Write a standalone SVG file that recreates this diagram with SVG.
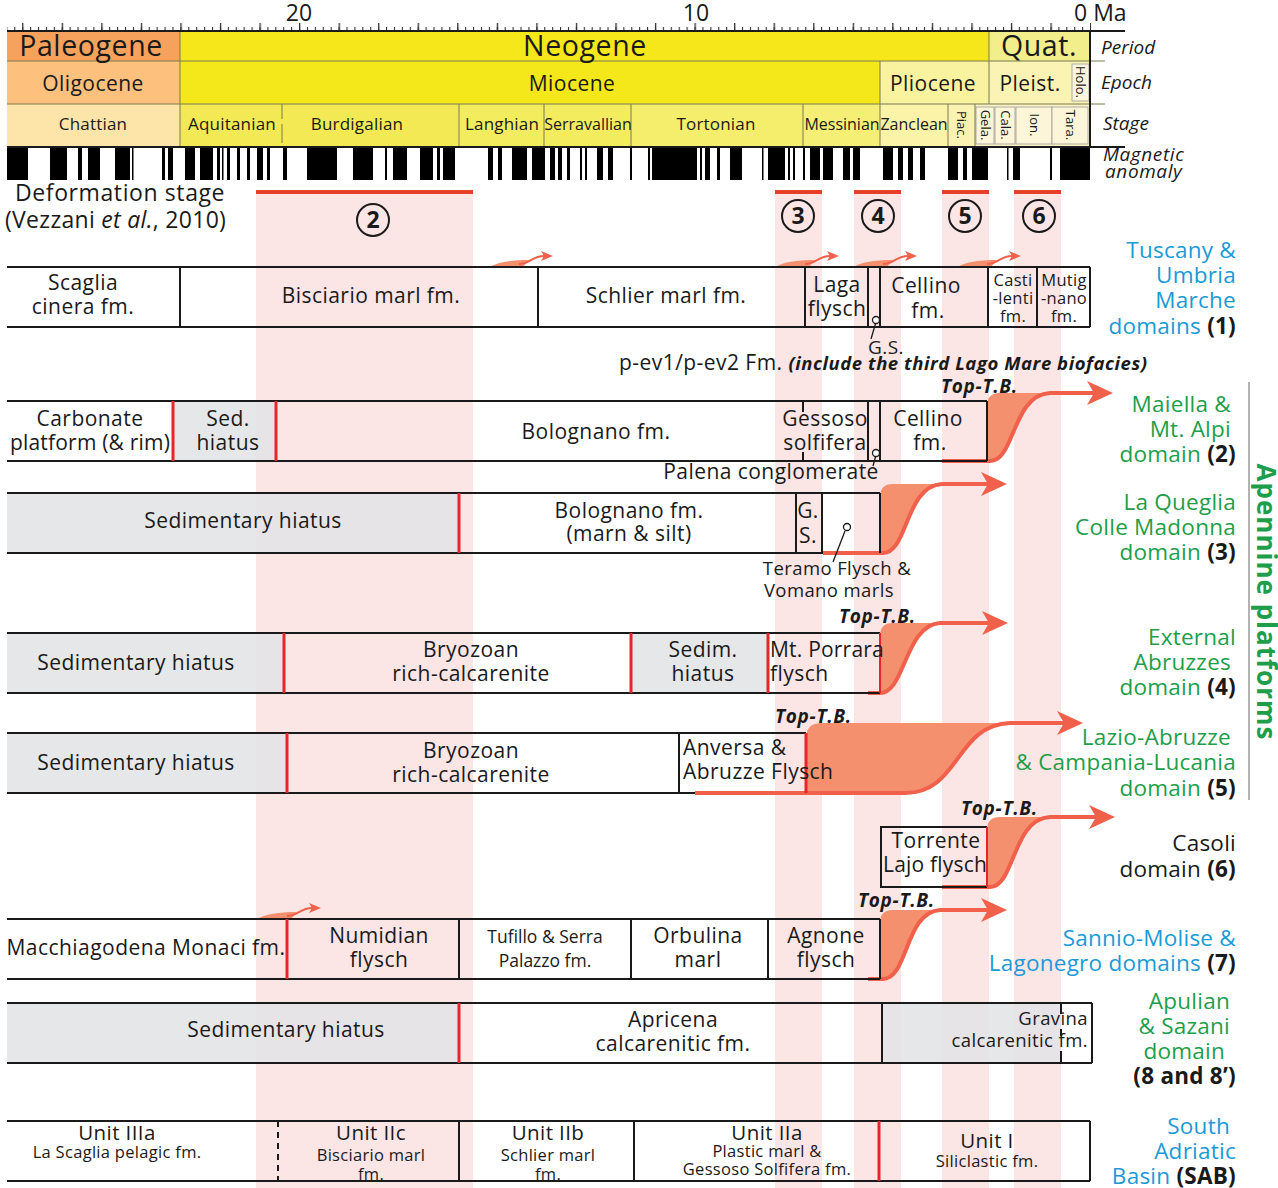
<svg xmlns="http://www.w3.org/2000/svg" width="1278" height="1188" viewBox="0 0 1278 1188">
<style>
text{font-family:"Open Sans","Noto Sans",sans-serif;fill:#1a1a1a}
.c{text-anchor:middle}.e{text-anchor:end}
.f26{font-size:28.5px;letter-spacing:0.6px}.f22{font-size:23px}.f21{font-size:22.5px;letter-spacing:0.25px}.f20{font-size:21px;letter-spacing:0.45px}.f19{font-size:20.5px;letter-spacing:0.4px}.f18{font-size:19px;letter-spacing:0.4px}.f17{font-size:18.5px;letter-spacing:0.4px}.f17n{font-size:17.5px}.f16{font-size:17px;letter-spacing:0.2px}.f16n{font-size:16px}.f15{font-size:16.5px;letter-spacing:0.3px}.f13{font-size:13px}
.tb{font-size:19px;letter-spacing:0.7px;font-style:italic;font-weight:bold}
.hd{font-size:19px}
.it{font-style:italic}.bi{font-style:italic;font-weight:bold}.b{font-weight:bold}
.blue{fill:#1B9AD7}.green{fill:#1E9E4A}.blk{fill:#1a1a1a;font-weight:bold}
.hl{stroke:#1a1a1a;stroke-width:2;fill:none}
.rl{stroke:#E8262A;stroke-width:3;fill:none}
.gray{fill:#E3E4E6;fill-opacity:0.88}
.band{fill:#FCE5E5}
.dl{stroke:#E5402A;stroke-width:4}
.sep{stroke:#7a7a50;stroke-width:1;fill:none}
.afill{fill:#F5906F}
.astroke{stroke:#F0604A;stroke-width:4;fill:none}
.sstroke{stroke:#F0604A;stroke-width:2;fill:none}
.sfill{fill:#F5906F}
.pin{fill:#fff;stroke:#1a1a1a;stroke-width:1.3}
</style>
<defs>
<marker id="ah" viewBox="0 0 26 24" refX="18" refY="12" markerWidth="26" markerHeight="24" markerUnits="userSpaceOnUse" orient="auto"><path d="M0,0 L26,12 L0,24 L7,12 Z" fill="#F0604A"/></marker>
<marker id="sh" viewBox="0 0 12 10" refX="8" refY="5" markerWidth="12" markerHeight="10" markerUnits="userSpaceOnUse" orient="auto"><path d="M0,0 L12,5 L0,10 L3,5 Z" fill="#F0604A"/></marker>
<pattern id="minor" x="1090" y="0" width="7.91" height="10" patternUnits="userSpaceOnUse"><rect x="0" y="0" width="1.1" height="10" fill="#333"/></pattern>
<pattern id="major" x="1090" y="0" width="39.55" height="10" patternUnits="userSpaceOnUse"><rect x="0" y="0" width="1.3" height="10" fill="#333"/></pattern>
</defs>

<!-- pink deformation bands -->
<g id="bands">
<rect class="band" x="256" y="192" width="217" height="996"/>
<rect class="band" x="775" y="192" width="47" height="996"/>
<rect class="band" x="854" y="192" width="47" height="996"/>
<rect class="band" x="942" y="192" width="47" height="996"/>
<rect class="band" x="1014" y="192" width="47" height="996"/>
</g>

<!-- time axis -->
<g id="axis">
<rect x="7" y="27" width="1084" height="4" fill="url(#minor)"/>
<rect x="7" y="23" width="1084" height="8" fill="url(#major)"/>
<text class="f22 c" x="299" y="21">20</text>
<text class="f22 c" x="696" y="21">10</text>
<text class="f22" x="1074" y="21">0 Ma</text>
</g>

<!-- chronostratigraphic header -->
<g id="header">
<rect x="7" y="31" width="173" height="30" fill="#F7A25C"/>
<rect x="180" y="31" width="809" height="30" fill="#F6E71B"/>
<rect x="989" y="31" width="101" height="30" fill="#F2EE8B"/>
<rect x="7" y="61" width="173" height="43" fill="#FDC07D"/>
<rect x="180" y="61" width="700" height="43" fill="#F5E81A"/>
<rect x="880" y="61" width="109" height="43" fill="#F9F29F"/>
<rect x="989" y="61" width="101" height="43" fill="#FAF3B3"/>
<rect x="1072" y="64" width="17" height="37" fill="#FDF6DA" stroke="#999" stroke-width="0.8"/>
<rect x="7" y="104" width="173" height="43" fill="#FDE4A8"/>
<rect x="180" y="104" width="279" height="43" fill="#F3E954"/>
<rect x="459" y="104" width="172" height="43" fill="#F4EC5F"/>
<rect x="631" y="104" width="172" height="43" fill="#F5EE6D"/>
<rect x="803" y="104" width="77" height="43" fill="#F6EF75"/>
<rect x="880" y="104" width="68" height="43" fill="#FAF3A8"/>
<rect x="948" y="104" width="27" height="43" fill="#F9F2B3"/>
<rect x="975" y="104" width="115" height="43" fill="#FAF3C4"/>
<rect x="976" y="107" width="18" height="37" fill="#FDF5D8" stroke="#999" stroke-width="0.8"/>
<rect x="995" y="107" width="20" height="37" fill="#FDF5D8" stroke="#999" stroke-width="0.8"/>
<rect x="1016" y="107" width="36" height="37" fill="#FDF5D8" stroke="#999" stroke-width="0.8"/>
<rect x="1052" y="107" width="36" height="37" fill="#FDF5D8" stroke="#999" stroke-width="0.8"/>
<path class="sep" d="M7,61 H1105 M7,104 H1105 M180,31 V147 M989,31 V104 M880,61 V147 M282,104 V119 M282,124 V143 M459,104 V147 M544,104 V147 M631,104 V147 M803,104 V147 M948,104 V147 M975,104 V147"/>
<path class="hl" d="M7,31 H1125 M7,147 H1125 M1090,31 V147"/>
<text class="f26 c" x="91" y="56">Paleogene</text>
<text class="f26 c" x="585" y="56">Neogene</text>
<text class="f26 c" x="1039" y="56">Quat.</text>
<text class="f20 c" x="93" y="91">Oligocene</text>
<text class="f20 c" x="572" y="91">Miocene</text>
<text class="f20 c" x="933" y="91">Pliocene</text>
<text class="f20 c" x="1030" y="91">Pleist.</text>
<text class="f13 c" transform="translate(1076,82) rotate(90)">Holo.</text>
<text class="f16 c" x="93" y="130">Chattian</text>
<text class="f16 c" x="232" y="130">Aquitanian</text>
<text class="f16 c" x="357" y="130">Burdigalian</text>
<text class="f16 c" x="502" y="130">Langhian</text>
<text class="f16n c" x="588" y="130">Serravallian</text>
<text class="f16 c" x="716" y="130">Tortonian</text>
<text class="f16n c" x="842" y="130">Messinian</text>
<text class="f16n c" x="914" y="130">Zanclean</text>
<text class="f13 c" transform="translate(957,125) rotate(90)">Piac.</text>
<text class="f13 c" transform="translate(981,125) rotate(90)">Gela.</text>
<text class="f13 c" transform="translate(1001,125) rotate(90)">Cala.</text>
<text class="f13 c" transform="translate(1030,125) rotate(90)">Ion.</text>
<text class="f13 c" transform="translate(1066,125) rotate(90)">Tara.</text>
<text class="hd it" x="1101" y="54">Period</text>
<text class="hd it" x="1101" y="89">Epoch</text>
<text class="hd it" x="1103" y="130">Stage</text>
<text class="hd it" x="1103" y="161" style="letter-spacing:0.6px">Magnetic</text>
<text class="hd it" x="1105" y="178" style="letter-spacing:0.6px">anomaly</text>
</g>

<!-- magnetic anomaly -->
<g id="magnetic">
<path fill="#000" d="M7,148h21v32h-21z M50,148h17v32h-17z M78,148h4v32h-4z M88,148h12v32h-12z M115,148h15v32h-15z M132,148h1.5v32h-1.5z M162,148h3v32h-3z M168,148h5v32h-5z M185,148h10v32h-10z M200,148h13v32h-13z M217,148h3v32h-3z M222,148h1.5v32h-1.5z M227,148h3v32h-3z M237,148h3v32h-3z M247,148h3v32h-3z M257,148h6v32h-6z M267,148h3v32h-3z M283,148h4v32h-4z M307,148h30v32h-30z M353,148h20v32h-20z M385,148h2v32h-2z M393,148h14v32h-14z M420,148h13v32h-13z M437,148h3v32h-3z M443,148h12v32h-12z M488,148h5v32h-5z M498,148h4v32h-4z M512,148h15v32h-15z M532,148h13v32h-13z M550,148h5v32h-5z M558,148h4v32h-4z M567,148h3v32h-3z M580,148h2v32h-2z M585,148h2v32h-2z M597,148h6v32h-6z M608,148h5v32h-5z M630,148h2v32h-2z M648,148h2v32h-2z M652,148h45v32h-45z M700,148h2v32h-2z M705,148h5v32h-5z M717,148h3v32h-3z M730,148h12v32h-12z M762,148h1.5v32h-1.5z M768,148h17v32h-17z M788,148h2v32h-2z M793,148h2v32h-2z M803,148h2v32h-2z M810,148h10v32h-10z M823,148h10v32h-10z M843,148h7v32h-7z M853,148h7v32h-7z M883,148h10v32h-10z M898,148h5v32h-5z M908,148h5v32h-5z M920,148h5v32h-5z M948,148h10v32h-10z M963,148h4v32h-4z M972,148h16v32h-16z M1007,148h1.5v32h-1.5z M1013,148h7v32h-7z M1050,148h2v32h-2z M1060,148h30v32h-30z"/>
</g>

<!-- deformation stages -->
<g id="deformation">
<text x="15" y="201" style="font-size:23px;letter-spacing:0.6px">Deformation stage</text>
<text x="5" y="228" style="font-size:23px;letter-spacing:0.3px">(Vezzani <tspan class="it">et al.</tspan>, 2010)</text>
<path class="dl" d="M256,192 H473 M775,192 H822 M854,192 H901 M942,192 H989 M1014,192 H1061"/>
<g fill="none" stroke="#1a1a1a" stroke-width="2">
<circle cx="373" cy="220" r="16"/><circle cx="798" cy="216" r="16"/><circle cx="878" cy="216" r="16"/><circle cx="965" cy="216" r="16"/><circle cx="1039" cy="216" r="16"/>
</g>
<text class="f22 b c" x="373" y="228">2</text>
<text class="f22 b c" x="798" y="224">3</text>
<text class="f22 b c" x="878" y="224">4</text>
<text class="f22 b c" x="965" y="224">5</text>
<text class="f22 b c" x="1039" y="224">6</text>
</g>

<!-- connectors: Top-T.B. arrows (drawn beneath formation labels) -->
<g id="connectors">
<path class="afill" d="M987,461 H990 C1015,461 1012,395 1050,393 H1000 Q987,393 987,406 Z"/>
<path class="astroke" d="M942,461 H990 C1015,461 1012,395 1050,393 H1105" marker-end="url(#ah)"/>
<path class="afill" d="M880,553 H883 C908,553 905,486 942,484 H893 Q880,484 880,497 Z"/>
<path class="astroke" d="M823,553 H883 C908,553 905,486 942,484 H999" marker-end="url(#ah)"/>
<path class="afill" d="M880,693 C905,693 905,625 940,623 H893 Q880,623 880,636 Z"/>
<path class="astroke" d="M868,693 H880 C905,693 905,625 940,623 H1000" marker-end="url(#ah)"/>
<path class="afill" d="M806,793 H905 C960,793 955,725 1010,723 H822 Q806,723 806,738 Z"/>
<path class="astroke" d="M695,793 H905 C960,793 955,725 1010,723 H1075" marker-end="url(#ah)"/>
<path class="afill" d="M987,887 H990 C1015,887 1012,819 1050,817 H1000 Q987,817 987,830 Z"/>
<path class="astroke" d="M942,887 H990 C1015,887 1012,819 1050,817 H1107" marker-end="url(#ah)"/>
<path class="afill" d="M880,979 H883 C908,979 905,912 940,910 H893 Q880,910 880,923 Z"/>
<path class="astroke" d="M868,979 H883 C908,979 905,912 940,910 H999" marker-end="url(#ah)"/>
<path class="sfill" d="M489,267 C499,262 509,260 529,260 L523,267 Z"/>
<path class="sstroke" d="M519,264 C530,264 532,256 544,256 H549" marker-end="url(#sh)"/>
<path class="sfill" d="M775,267 C785,262 795,260 815,260 L809,267 Z"/>
<path class="sstroke" d="M805,264 C816,264 818,256 830,256 H835" marker-end="url(#sh)"/>
<path class="sfill" d="M853,267 C863,262 873,260 893,260 L887,267 Z"/>
<path class="sstroke" d="M883,264 C894,264 896,256 908,256 H913" marker-end="url(#sh)"/>
<path class="sfill" d="M957,267 C967,262 977,260 997,260 L991,267 Z"/>
<path class="sstroke" d="M987,264 C998,264 1000,256 1012,256 H1017" marker-end="url(#sh)"/>
<path class="sfill" d="M257,919 C267,914 277,912 297,912 L291,919 Z"/>
<path class="sstroke" d="M287,916 C298,916 300,908 312,908 H317" marker-end="url(#sh)"/>
<text class="tb" x="941" y="393">Top-T.B.</text>
<text class="tb" x="839" y="623">Top-T.B.</text>
<text class="tb" x="775" y="723">Top-T.B.</text>
<text class="tb" x="961" y="815">Top-T.B.</text>
<text class="tb" x="858" y="907">Top-T.B.</text>
</g>

<!-- Row 1: Tuscany & Umbria Marche -->
<g id="row1">
<path class="hl" d="M7,267 H1090 M7,327 H1090 M180,267 V327 M538,267 V327 M805,267 V327 M868,267 V327 M880,267 V327 M988,267 V327 M1037,267 V327 M1090,267 V327"/>
<text class="f20 c" x="83" y="290">Scaglia</text>
<text class="f20 c" x="83" y="314">cinera fm.</text>
<text class="f20 c" x="371" y="303">Bisciario marl fm.</text>
<text class="f20 c" x="666" y="303">Schlier marl fm.</text>
<text class="f20 c" x="837" y="292">Laga</text>
<text class="f20 c" x="837" y="316">flysch</text>
<text class="f20 c" x="926" y="293">Cellino</text>
<text class="f20 c" x="928" y="318">fm.</text>
<text class="f15 c" x="1013" y="286">Casti</text>
<text class="f15 c" x="1013" y="304">-lenti</text>
<text class="f15 c" x="1013" y="322">fm.</text>
<text class="f15 c" x="1064" y="286">Mutig</text>
<text class="f15 c" x="1064" y="304">-nano</text>
<text class="f15 c" x="1064" y="322">fm.</text>
<path d="M876,322 L871,339" stroke="#1a1a1a" stroke-width="1.3"/>
<circle class="pin" cx="876" cy="320" r="3.5"/>
<text class="f18 c" x="886" y="354">G.S.</text>
<text class="f20" x="619" y="370">p-ev1/p-ev2 Fm. <tspan class="bi" style="font-size:18.5px;letter-spacing:0.55px">(include the third Lago Mare biofacies)</tspan></text>
</g>

<!-- Row 2: Maiella -->
<g id="row2">
<rect class="gray" x="173" y="401" width="103" height="60"/>
<path class="hl" d="M7,401 H987 M7,461 H987 M803,401 V412 M803,452 V461 M868,401 V461 M880,401 V461 M987,401 V461"/>
<path class="rl" d="M173,401 V461 M276,401 V461"/>
<text class="f20 c" x="90" y="426">Carbonate</text>
<text class="f20 c" x="90" y="450" style="letter-spacing:0.2px">platform (&amp; rim)</text>
<text class="f20 c" x="228" y="426">Sed.</text>
<text class="f20 c" x="228" y="450">hiatus</text>
<text class="f20 c" x="596" y="439">Bolognano fm.</text>
<text class="f20 c" x="825" y="426">Gessoso</text>
<text class="f20 c" x="825" y="450">solfifera</text>
<text class="f20 c" x="928" y="426">Cellino</text>
<text class="f20 c" x="930" y="450">fm.</text>
<path d="M876,455 L873,466" stroke="#1a1a1a" stroke-width="1.3"/>
<circle class="pin" cx="876" cy="453" r="3.5"/>
<text class="f20 c" x="771" y="479">Palena conglomerate</text>
</g>

<!-- Row 3: La Queglia -->
<g id="row3">
<rect class="gray" x="7" y="493" width="452" height="60"/>
<path class="hl" d="M7,493 H880 M7,553 H823 M796,493 V553 M822,493 V553 M880,493 V553"/>
<path class="rl" d="M459,493 V553"/>
<text class="f20 c" x="243" y="528">Sedimentary hiatus</text>
<text class="f20 c" x="629" y="518">Bolognano fm.</text>
<text class="f20 c" x="629" y="541">(marn &amp; silt)</text>
<text class="f20 c" x="808" y="518">G.</text>
<text class="f20 c" x="808" y="543">S.</text>
<path d="M845,531 L833,562" stroke="#1a1a1a" stroke-width="1.3"/>
<circle class="pin" cx="847" cy="527" r="3.5"/>
<text class="f17 c" x="837" y="575">Teramo Flysch &amp;</text>
<text class="f17 c" x="829" y="597">Vomano marls</text>
</g>

<!-- Row 4: External Abruzzes -->
<g id="row4">
<rect class="gray" x="7" y="633" width="277" height="60"/>
<rect class="gray" x="631" y="633" width="137" height="60"/>
<path class="hl" d="M7,633 H880 M7,693 H880"/>
<path class="rl" d="M284,633 V693 M631,633 V693 M768,633 V693"/>
<path d="M880,633 V693" stroke="#E8262A" stroke-width="2"/>
<text class="f20 c" x="136" y="670">Sedimentary hiatus</text>
<text class="f20 c" x="471" y="657">Bryozoan</text>
<text class="f20 c" x="471" y="681">rich-calcarenite</text>
<text class="f20 c" x="703" y="657">Sedim.</text>
<text class="f20 c" x="703" y="681">hiatus</text>
<text class="f20" x="770" y="657" style="letter-spacing:0.2px">Mt. Porrara</text>
<text class="f20" x="770" y="681">flysch</text>
</g>

<!-- Row 5: Lazio-Abruzze -->
<g id="row5">
<rect class="gray" x="7" y="733" width="280" height="60"/>
<path class="hl" d="M7,733 H806 M7,793 H695 M679,733 V793"/>
<path class="rl" d="M287,733 V793 M806,733 V793"/>
<text class="f20 c" x="136" y="770">Sedimentary hiatus</text>
<text class="f20 c" x="471" y="758">Bryozoan</text>
<text class="f20 c" x="471" y="782">rich-calcarenite</text>
<text class="f20" x="683" y="755">Anversa &amp;</text>
<text class="f20" x="683" y="779">Abruzze Flysch</text>
</g>

<!-- Row 6: Casoli -->
<g id="row6">
<path class="hl" d="M987,827 H881 V887 H987"/>
<path d="M987,827 V887" stroke="#E8262A" stroke-width="2"/>
<text class="f20 c" x="936" y="848">Torrente</text>
<text class="f20 c" x="935" y="872" style="letter-spacing:0.2px">Lajo flysch</text>
</g>

<!-- Row 7: Sannio-Molise -->
<g id="row7">
<path class="hl" d="M7,919 H880 M7,979 H880 M459,919 V979 M631,919 V979 M768,919 V979 M880,919 V979"/>
<path class="rl" d="M287,919 V979"/>
<text class="f20 c" x="146" y="955">Macchiagodena Monaci fm.</text>
<text class="f20 c" x="379" y="943">Numidian</text>
<text class="f20 c" x="379" y="967">flysch</text>
<text class="f17n c" x="545" y="943">Tufillo &amp; Serra</text>
<text class="f17n c" x="545" y="967">Palazzo fm.</text>
<text class="f20 c" x="698" y="943">Orbulina</text>
<text class="f20 c" x="698" y="967">marl</text>
<text class="f20 c" x="826" y="943">Agnone</text>
<text class="f20 c" x="826" y="967">flysch</text>
</g>

<!-- Row 8: Apulian -->
<g id="row8">
<rect class="gray" x="7" y="1003" width="452" height="60"/>
<rect class="gray" x="882" y="1003" width="179" height="60"/>
<path class="hl" d="M7,1003 H1092 M7,1063 H1092 M882,1003 V1063 M1092,1003 V1063 M1061,1003 V1014 M1061,1029 V1036 M1061,1051 V1063"/>
<path class="rl" d="M459,1003 V1063"/>
<text class="f20 c" x="286" y="1037">Sedimentary hiatus</text>
<text class="f20 c" x="673" y="1027">Apricena</text>
<text class="f20 c" x="673" y="1051">calcarenitic fm.</text>
<text class="f17 e" x="1088" y="1025">Gravina</text>
<text class="f17 e" x="1088" y="1047">calcarenitic fm.</text>
</g>

<!-- Row 9: South Adriatic Basin -->
<g id="row9">
<path class="hl" d="M7,1121 H1090 M7,1181 H1090 M459,1121 V1181 M634,1121 V1181 M1090,1121 V1181"/>
<path d="M278,1121 V1181" stroke="#1a1a1a" stroke-width="2" stroke-dasharray="6,5"/>
<path class="rl" d="M879,1121 V1181"/>
<text class="f19 c" x="117" y="1140">Unit IIIa</text>
<text class="f15 c" x="117" y="1158">La Scaglia pelagic fm.</text>
<text class="f19 c" x="371" y="1140">Unit IIc</text>
<text class="f15 c" x="371" y="1161">Bisciario marl</text>
<text class="f15 c" x="371" y="1180">fm.</text>
<text class="f19 c" x="548" y="1140">Unit IIb</text>
<text class="f15 c" x="548" y="1161">Schlier marl</text>
<text class="f15 c" x="548" y="1180">fm.</text>
<text class="f19 c" x="767" y="1140">Unit IIa</text>
<text class="f15 c" x="767" y="1157">Plastic marl &amp;</text>
<text class="f15 c" x="767" y="1175">Gessoso Solfifera fm.</text>
<text class="f19 c" x="987" y="1148">Unit I</text>
<text class="f15 c" x="987" y="1167">Siliclastic fm.</text>
</g>

<!-- domain labels -->
<g id="labels">
<text class="f21 e blue" x="1236" y="258">Tuscany &amp;</text>
<text class="f21 e blue" x="1236" y="283">Umbria</text>
<text class="f21 e blue" x="1236" y="308">Marche</text>
<text class="f21 e blue" x="1236" y="334">domains <tspan class="blk">(1)</tspan></text>
<text class="f21 e green" x="1231" y="412">Maiella &amp;</text>
<text class="f21 e green" x="1231" y="437">Mt. Alpi</text>
<text class="f21 e green" x="1236" y="462">domain <tspan class="blk">(2)</tspan></text>
<text class="f21 e green" x="1236" y="510">La Queglia</text>
<text class="f21 e green" x="1236" y="535">Colle Madonna</text>
<text class="f21 e green" x="1236" y="560">domain <tspan class="blk">(3)</tspan></text>
<text class="f21 e green" x="1236" y="645">External</text>
<text class="f21 e green" x="1231" y="670">Abruzzes</text>
<text class="f21 e green" x="1236" y="695">domain <tspan class="blk">(4)</tspan></text>
<text class="f21 e green" x="1231" y="745">Lazio-Abruzze</text>
<text class="f21 e green" x="1236" y="770">&amp; Campania-Lucania</text>
<text class="f21 e green" x="1236" y="796">domain <tspan class="blk">(5)</tspan></text>
<text class="f21 e" x="1236" y="851">Casoli</text>
<text class="f21 e" x="1236" y="877">domain <tspan class="blk">(6)</tspan></text>
<text class="f21 e blue" x="1236" y="946">Sannio-Molise &amp;</text>
<text class="f21 e blue" x="1236" y="971">Lagonegro domains <tspan class="blk">(7)</tspan></text>
<text class="f21 e green" x="1230" y="1009">Apulian</text>
<text class="f21 e green" x="1230" y="1034">&amp; Sazani</text>
<text class="f21 e green" x="1225" y="1059">domain</text>
<text class="f21 e blk" x="1236" y="1084">(8 and 8’)</text>
<text class="f21 e blue" x="1230" y="1134">South</text>
<text class="f21 e blue" x="1236" y="1159">Adriatic</text>
<text class="f21 e blue" x="1236" y="1184">Basin <tspan class="blk">(SAB)</tspan></text>
<path d="M1249,382 V800" stroke="#9a9a9a" stroke-width="1.5"/>
<text class="b c green" transform="translate(1257,602) rotate(90)" style="font-size:26px;letter-spacing:1px">Apennine platforms</text>
</g>
</svg>
